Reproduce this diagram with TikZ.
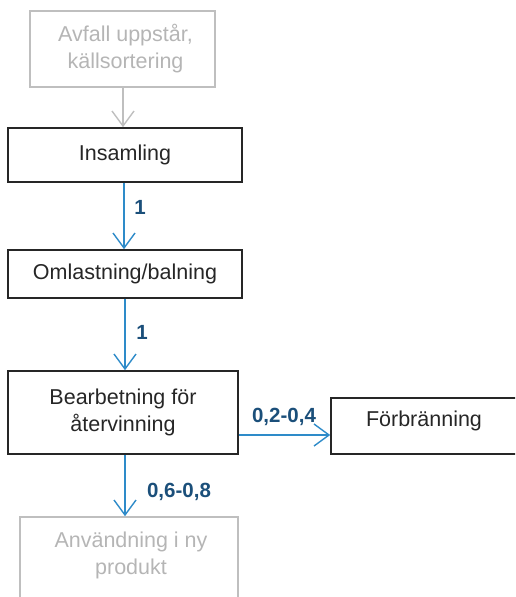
\documentclass[tikz,border=0pt]{standalone}
\usepackage{fontspec}
\setmainfont{Liberation Sans}
\usetikzlibrary{arrows.meta}
\definecolor{boxline}{HTML}{262626}
\definecolor{fadeline}{HTML}{BFBFBF}
\definecolor{fadetext}{HTML}{B5B5B5}
\definecolor{flow}{HTML}{2E8BC9}
\definecolor{flowtext}{HTML}{1B4F7A}
\begin{document}
\begin{tikzpicture}[x=1pt,y=-1pt,
  stagefont/.style={font=\fontsize{21.5}{27}\selectfont},
  stage/.style={draw=boxline,line width=1.6pt,rectangle,inner sep=0pt,
    text=boxline,align=center,stagefont},
  faded/.style={stage,draw=fadeline,text=fadetext},
  flowarrow/.style={draw=flow,line width=1.6pt,
    -{Straight Barb[length=15pt,width=22pt,line width=1.4pt]}},
  fadearrow/.style={flowarrow,draw=fadeline},
  amount/.style={text=flowtext,font=\fontsize{20.5}{24}\selectfont\bfseries,inner sep=0pt}]
\useasboundingbox (0,0) rectangle (515,597);
\begin{scope}
\clip (0,0) rectangle (515,597);
% process stages
\node[faded,minimum width=185pt,minimum height=76pt] (A) at (122.5,49) {};
\node[text=fadetext,align=center,stagefont,inner sep=0pt] (At) at (125.5,49)
  {Avfall uppstår,\\källsortering};
\node[stage,minimum width=234pt,minimum height=54pt] (B) at (125,155) {Insamling};
\node[stage,minimum width=234pt,minimum height=48pt] (C) at (125,274) {Omlastning/balning};
\node[stage,minimum width=230pt,minimum height=83pt] (D) at (123,412.5)
  {Bearbetning för\\återvinning};
\node[stage,minimum width=200pt,minimum height=56pt] (E) at (431,426) {};
\node[text=boxline,stagefont,inner sep=0pt] (Et) at (424,421) {Förbränning};
\node[faded,minimum width=218pt,minimum height=94pt] (F) at (129,564) {};
\node[text=fadetext,align=center,stagefont,inner sep=0pt] (Ft) at (131,555)
  {Användning i ny\\produkt};
% flows
\draw[fadearrow] (A.south -| 123,0) -- (B.north -| 123,0);
\draw[flowarrow] (B.south -| 124,0) -- (C.north -| 124,0);
\draw[flowarrow] (C.south -| 125,0) -- (D.north -| 125,0);
\draw[flowarrow] (D.south -| 125,0) -- (F.north -| 125,0);
\draw[flowarrow] (D.east |- 0,435) -- (E.west |- 0,435);
% flow amounts
\node[amount] (n1) at (140,207) {1};
\node[amount] (n2) at (142,332) {1};
\node[amount] (n3) at (284,417) {0,2-0,4};
\node[amount] (n4) at (179,492) {0,6-0,8};
\end{scope}
\end{tikzpicture}
\end{document}
